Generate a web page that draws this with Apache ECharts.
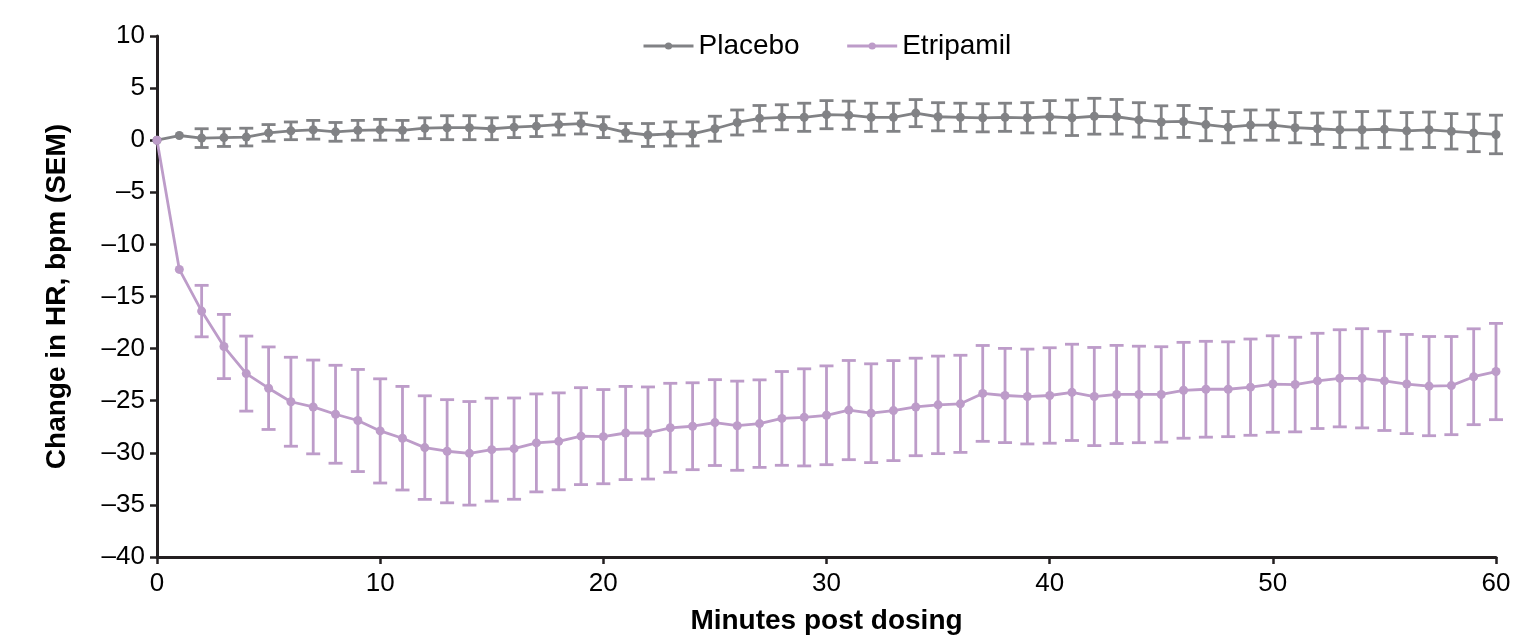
<!DOCTYPE html>
<html>
<head>
<meta charset="utf-8">
<script src="https://cdn.jsdelivr.net/npm/echarts@6/dist/echarts.min.js"></script>
<style>
html,body{margin:0;padding:0;background:#fff;}
#chart{width:1515px;height:641px;}
</style>
</head>
<body>
<div id="chart"></div>
<script>
// Minutes post dosing
const minutes = [0,1,2,3,4,5,6,7,8,9,10,11,12,13,14,15,16,17,18,19,20,21,22,23,24,25,26,27,28,29,30,31,32,33,34,35,36,37,38,39,40,41,42,43,44,45,46,47,48,49,50,51,52,53,54,55,56,57,58,59,60];
// Placebo mean change in HR (bpm)
const placeboMean = [0,0.45,0.2,0.25,0.3,0.7,0.9,1.0,0.8,0.95,1.0,0.95,1.15,1.2,1.2,1.1,1.25,1.35,1.5,1.6,1.25,0.75,0.5,0.6,0.6,1.1,1.7,2.1,2.2,2.2,2.45,2.4,2.2,2.2,2.6,2.25,2.2,2.15,2.2,2.15,2.25,2.15,2.3,2.25,1.95,1.75,1.8,1.5,1.25,1.45,1.45,1.2,1.1,1.0,1.0,1.05,0.9,1.0,0.85,0.7,0.55];
// Placebo SEM
const placeboSEM = [0,0,0.9,0.85,0.85,0.8,0.85,0.9,0.9,0.95,1.0,0.95,1.0,1.15,1.15,1.05,1.0,1.0,1.0,1.0,1.0,0.85,1.1,1.15,1.15,1.2,1.2,1.23,1.2,1.35,1.35,1.35,1.35,1.35,1.3,1.35,1.35,1.35,1.35,1.45,1.55,1.7,1.72,1.66,1.65,1.55,1.53,1.55,1.5,1.45,1.45,1.45,1.5,1.7,1.75,1.75,1.75,1.7,1.7,1.8,1.85];
// Etripamil mean change in HR (bpm)
const etripamilMean = [0,-12.4,-16.4,-19.8,-22.4,-23.8,-25.1,-25.6,-26.3,-26.9,-27.9,-28.6,-29.5,-29.85,-30.05,-29.7,-29.6,-29.05,-28.9,-28.4,-28.45,-28.1,-28.1,-27.6,-27.45,-27.1,-27.4,-27.2,-26.7,-26.6,-26.4,-25.9,-26.2,-25.95,-25.6,-25.4,-25.3,-24.3,-24.5,-24.6,-24.5,-24.2,-24.6,-24.4,-24.4,-24.4,-24.0,-23.9,-23.9,-23.7,-23.4,-23.45,-23.1,-22.85,-22.85,-23.1,-23.4,-23.6,-23.55,-22.7,-22.2];
// Etripamil SEM
const etripamilSEM = [0,0,2.47,3.08,3.6,3.96,4.27,4.5,4.7,4.9,5.0,4.97,4.97,4.95,4.97,4.94,4.86,4.7,4.65,4.65,4.52,4.47,4.42,4.27,4.17,4.12,4.28,4.2,4.5,4.66,4.74,4.76,4.74,4.8,4.68,4.68,4.66,4.6,4.52,4.55,4.58,4.62,4.71,4.71,4.63,4.58,4.6,4.6,4.55,4.62,4.63,4.54,4.57,4.66,4.76,4.76,4.76,4.76,4.71,4.6,4.62];

const seriesNames = ['Placebo','Etripamil'];
const colors = ['#818285','#bd9cc9'];

const toPairs = (m) => minutes.map((t,i)=>[t,m[i]]);
const toErr = (m,s) => minutes.map((t,i)=>[t,m[i]-s[i],m[i]+s[i],s[i]]);

function errRender(color){
  return function(params, api){
    const sem = api.value(3);
    if (!sem) return null;
    const x = api.value(0);
    const lo = api.coord([x, api.value(1)]);
    const hi = api.coord([x, api.value(2)]);
    const hw = 7;
    const st = {stroke: color, lineWidth: 2.8, fill: null};
    return {type:'group', children:[
      {type:'line', shape:{x1:lo[0],y1:lo[1],x2:hi[0],y2:hi[1]}, style:st},
      {type:'line', shape:{x1:lo[0]-hw,y1:lo[1],x2:lo[0]+hw,y2:lo[1]}, style:st},
      {type:'line', shape:{x1:hi[0]-hw,y1:hi[1],x2:hi[0]+hw,y2:hi[1]}, style:st}
    ]};
  };
}

const chart = echarts.init(document.getElementById('chart'), null, {renderer:'canvas'});
const font = '"Liberation Sans", Arial, sans-serif';
chart.setOption({
  animation:false,
  textStyle:{fontFamily:font},
  grid:{left:157,right:19,top:36,bottom:84,containLabel:false},
  legend:{
    data:seriesNames,
    top:27, left:637,
    itemWidth:50, itemHeight:9, itemGap:46,
    lineStyle:{width:3},
    textStyle:{fontFamily:font,fontSize:28,color:'#000'},
  },
  xAxis:{
    type:'value', min:0, max:60, interval:10,
    name:'Minutes post dosing', nameLocation:'middle', nameGap:50,
    nameTextStyle:{fontFamily:font,fontSize:28,fontWeight:'bold',color:'#000'},
    axisLine:{show:true,onZero:false,lineStyle:{color:'#231f20',width:3}},
    axisTick:{show:true,length:7,lineStyle:{color:'#231f20',width:2.5}},
    axisLabel:{fontFamily:font,fontSize:26,color:'#000',margin:14},
    splitLine:{show:false}
  },
  yAxis:{
    type:'value', min:-40, max:10, interval:5,
    name:'Change in HR, bpm (SEM)', nameLocation:'middle', nameGap:86,
    nameTextStyle:{fontFamily:font,fontSize:28,fontWeight:'bold',color:'#000'},
    axisLine:{show:true,onZero:false,lineStyle:{color:'#231f20',width:3}},
    axisTick:{show:true,length:7,lineStyle:{color:'#231f20',width:2.5}},
    axisLabel:{fontFamily:font,fontSize:26,color:'#000',margin:12,
      formatter:(v)=>String(v).replace('-','\u2013')},
    splitLine:{show:false}
  },
  series:[
    {type:'custom', name:'PlaceboErr', renderItem:errRender(colors[0]), data:toErr(placeboMean,placeboSEM), z:2, silent:true},
    {type:'custom', name:'EtripamilErr', renderItem:errRender(colors[1]), data:toErr(etripamilMean,etripamilSEM), z:2, silent:true},
    {type:'line', name:seriesNames[0], data:toPairs(placeboMean), color:colors[0],
      symbol:'circle', symbolSize:9, lineStyle:{width:2.8,color:colors[0]}, itemStyle:{color:colors[0]}, z:3},
    {type:'line', name:seriesNames[1], data:toPairs(etripamilMean), color:colors[1],
      symbol:'circle', symbolSize:9, lineStyle:{width:2.8,color:colors[1]}, itemStyle:{color:colors[1]}, z:3}
  ]
});
</script>
</body>
</html>
